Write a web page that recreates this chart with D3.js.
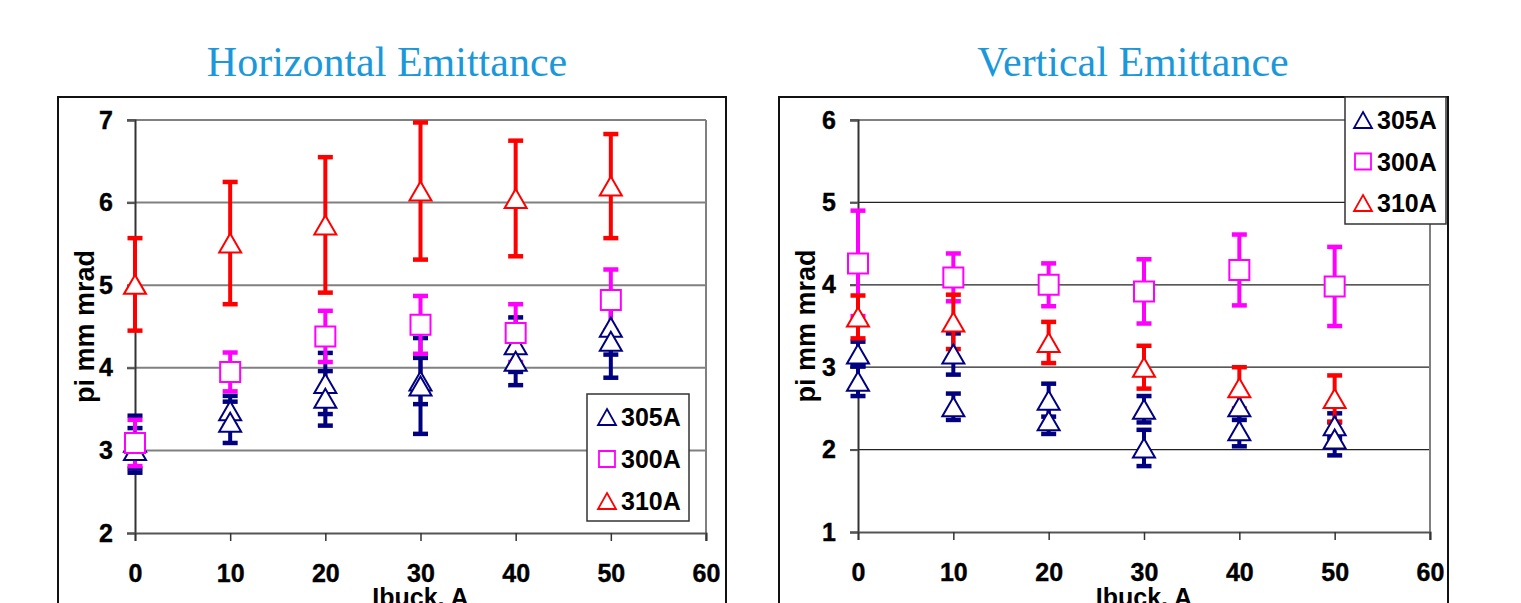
<!DOCTYPE html>
<html>
<head>
  <meta charset="UTF-8">
  <title>Horizontal and Vertical Emittance</title>
  <script src="https://d3js.org/d3.v7.min.js"></script>
  <style>
    body { margin: 0; background: #fff; }
    text { font-family: "Liberation Sans", Arial, sans-serif; font-weight: bold; }
  </style>
</head>
<body>
<div id="chart"></div>
<script>
// Ibuck values (A)
const ibuck = [0, 10, 20, 30, 40, 50];
const xTicks = [0, 10, 20, 30, 40, 50, 60];
const legendNames = ["305A", "300A", "310A"];

// horizontal emittance, pi mm mrad
const hor305a = [3.10, 3.48, 3.81, 3.84, 4.28, 4.49];
const hor305aErr = [0.32, 0.18, 0.37, 0.28, 0.33, 0.33];
const hor305b = [3.00, 3.34, 3.63, 3.78, 4.08, 4.32];
const hor305bErr = [0.27, 0.25, 0.33, 0.58, 0.29, 0.44];
const hor300 = [3.09, 3.95, 4.38, 4.52, 4.42, 4.82];
const hor300Err = [0.28, 0.235, 0.31, 0.35, 0.35, 0.37];
const hor310 = [5.01, 5.51, 5.73, 6.14, 6.05, 6.20];
const hor310Err = [0.56, 0.74, 0.82, 0.83, 0.70, 0.63];
const horTicks = [2, 3, 4, 5, 6, 7];

// vertical emittance, pi mm mrad
const ver305a = [3.16, 3.16, 2.60, 2.49, 2.52, 2.29];
const ver305aErr = [0.15, 0.25, 0.20, 0.16, 0.16, 0.15];
const ver305b = [2.83, 2.52, 2.35, 2.02, 2.23, 2.13];
const ver305bErr = [0.18, 0.16, 0.16, 0.22, 0.19, 0.20];
const ver300 = [4.26, 4.09, 4.00, 3.92, 4.18, 3.98];
const ver300Err = [0.64, 0.29, 0.26, 0.39, 0.43, 0.48];
const ver310 = [3.61, 3.55, 3.30, 3.00, 2.75, 2.62];
const ver310Err = [0.26, 0.33, 0.25, 0.26, 0.25, 0.28];
const verTicks = [1, 2, 3, 4, 5, 6];

const navy = "#000080", magenta = "#ff00ff", red = "#ff0000";

const svg = d3.select("#chart").append("svg")
  .attr("width", 1521)
  .attr("height", 603);

function triPath(w, h) {
  return "M0," + (-h / 2) + "L" + (w / 2) + "," + (h / 2) + "L" + (-w / 2) + "," + (h / 2) + "Z";
}

function drawPanel(p) {
  const g = svg.append("g");

  // outer frame
  g.append("rect")
    .attr("x", p.frame[0]).attr("y", p.frame[1])
    .attr("width", p.frame[2]).attr("height", p.frame[3])
    .attr("fill", "white").attr("stroke", "#111").attr("stroke-width", 2);

  g.append("text")
    .attr("x", p.titleX).attr("y", 76)
    .attr("text-anchor", "middle")
    .style("font-family", "'Liberation Serif', 'Times New Roman', serif")
    .style("font-weight", "normal")
    .style("font-size", "42px")
    .attr("fill", "#1b98d9")
    .text(p.title);

  const x = d3.scaleLinear().domain([0, 60]).range(p.xr);
  const y = d3.scaleLinear().domain(p.yd).range(p.yr);

  // gridlines
  g.selectAll(".grid")
    .data(p.yTicks.slice(1))
    .enter().append("line")
    .attr("x1", p.xr[0] - 8).attr("x2", p.xr[1])
    .attr("y1", d => y(d)).attr("y2", d => y(d))
    .attr("stroke", (d, i) => (i === p.yTicks.length - 2 ? "#808080" : p.gridColor))
    .attr("stroke-width", (d, i) => (i === p.yTicks.length - 2 ? 2 : p.gridWidth));

  // right border of plot area
  g.append("line")
    .attr("x1", p.xr[1]).attr("x2", p.xr[1])
    .attr("y1", p.yr[1]).attr("y2", p.yr[0] + 8)
    .attr("stroke", "#808080").attr("stroke-width", 2);

  const yAxis = g.append("g")
    .attr("transform", "translate(" + p.xr[0] + ",0)")
    .call(d3.axisLeft(y).tickValues(p.yTicks).tickSize(8).tickPadding(14).tickFormat(d3.format("d")));
  yAxis.select(".domain").attr("stroke", "#333").attr("stroke-width", 2);
  yAxis.selectAll(".tick line").attr("stroke", "#555").attr("stroke-width", 2);
  yAxis.selectAll("text").style("font-size", "25px").attr("fill", "#000")
    .attr("stroke", "#000").attr("stroke-width", 0.4);

  const xAxis = g.append("g")
    .attr("transform", "translate(0," + p.yr[0] + ")")
    .call(d3.axisBottom(x).tickValues(xTicks).tickSize(8).tickPadding(23).tickFormat(d3.format("d")));
  xAxis.select(".domain").attr("stroke", "#555").attr("stroke-width", 2);
  xAxis.selectAll(".tick line").attr("stroke", "#333").attr("stroke-width", 1.5);
  xAxis.selectAll("text").style("font-size", "25px").attr("fill", "#000")
    .attr("stroke", "#000").attr("stroke-width", 0.4);

  // axis title sits at the bottom edge, partly cut as in the original slide
  g.append("text")
    .attr("x", (p.xr[0] + p.xr[1]) / 2).attr("y", 606)
    .attr("text-anchor", "middle")
    .style("font-size", "25px")
    .text("Ibuck, A");

  g.append("text")
    .attr("transform", "translate(" + p.ytitleX + "," + (p.yr[0] + p.yr[1]) / 2 + ") rotate(-90)")
    .attr("text-anchor", "middle")
    .attr("dy", "0.35em")
    .style("font-size", "27px")
    .text("pi mm mrad");

  const series = p.series;

  // error bars first, then markers on top
  series.forEach(s => {
    const eb = g.append("g");
    ibuck.forEach((xv, i) => {
      const lo = y(s.values[i] - s.err[i]);
      const hi = y(s.values[i] + s.err[i]);
      eb.append("line")
        .attr("x1", x(xv)).attr("x2", x(xv)).attr("y1", lo).attr("y2", hi)
        .attr("stroke", s.color).attr("stroke-width", 4);
      [lo, hi].forEach(yy => {
        eb.append("line")
          .attr("x1", x(xv) - 7.5).attr("x2", x(xv) + 7.5).attr("y1", yy).attr("y2", yy)
          .attr("stroke", s.color).attr("stroke-width", 4.5);
      });
    });
  });

  series.forEach(s => {
    g.selectAll(null)
      .data(ibuck.map((xv, i) => ({ x: xv, v: s.values[i] })))
      .enter().append("path")
      .attr("transform", d => "translate(" + x(d.x) + "," + y(d.v) + ")")
      .attr("d", s.shape === "square" ? "M-10,-10H10V10H-10Z" : triPath(22, 19))
      .attr("fill", "white")
      .attr("stroke", s.color)
      .attr("stroke-width", 2);
  });

  // legend
  const lg = g.append("g").attr("transform", "translate(" + p.legend[0] + "," + p.legend[1] + ")");
  lg.append("rect")
    .attr("width", p.legend[2]).attr("height", p.legend[3])
    .attr("fill", "white").attr("stroke", "#333").attr("stroke-width", 1.5);
  const legendItems = [
    { name: legendNames[0], color: navy, shape: "tri" },
    { name: legendNames[1], color: magenta, shape: "square" },
    { name: legendNames[2], color: red, shape: "tri" }
  ];
  legendItems.forEach((d, i) => {
    const cy = p.legendRow0 + i * p.legendStep;
    lg.append("path")
      .attr("transform", "translate(" + p.legendMarkX + "," + cy + ")")
      .attr("d", d.shape === "square" ? "M-8,-8H8V8H-8Z" : triPath(18, 16))
      .attr("fill", "white").attr("stroke", d.color).attr("stroke-width", 1.8);
    lg.append("text")
      .attr("x", p.legendMarkX + 14).attr("y", cy)
      .attr("dy", "0.36em")
      .style("font-size", "25px")
      .text(d.name);
  });
}

drawPanel({
  title: "Horizontal Emittance",
  titleX: 387,
  frame: [58, 97, 668, 530],
  xr: [135, 706],
  yd: [2, 7],
  yr: [533, 120],
  yTicks: horTicks,
  gridColor: "#808080",
  gridWidth: 2,
  ytitleX: 85,
  series: [
    { values: hor305a, err: hor305aErr, color: navy, shape: "tri" },
    { values: hor305b, err: hor305bErr, color: navy, shape: "tri" },
    { values: hor300, err: hor300Err, color: magenta, shape: "square" },
    { values: hor310, err: hor310Err, color: red, shape: "tri" }
  ],
  legend: [587, 394, 102, 127],
  legendRow0: 23,
  legendStep: 42,
  legendMarkX: 20
});

drawPanel({
  title: "Vertical Emittance",
  titleX: 1133,
  frame: [779, 97, 669, 530],
  xr: [858, 1430],
  yd: [1, 6],
  yr: [532, 120],
  yTicks: verTicks,
  gridColor: "#222",
  gridWidth: 1.3,
  ytitleX: 806,
  series: [
    { values: ver305a, err: ver305aErr, color: navy, shape: "tri" },
    { values: ver305b, err: ver305bErr, color: navy, shape: "tri" },
    { values: ver300, err: ver300Err, color: magenta, shape: "square" },
    { values: ver310, err: ver310Err, color: red, shape: "tri" }
  ],
  legend: [1345, 97, 101, 127],
  legendRow0: 23,
  legendStep: 41.5,
  legendMarkX: 18
});
</script>
</body>
</html>
